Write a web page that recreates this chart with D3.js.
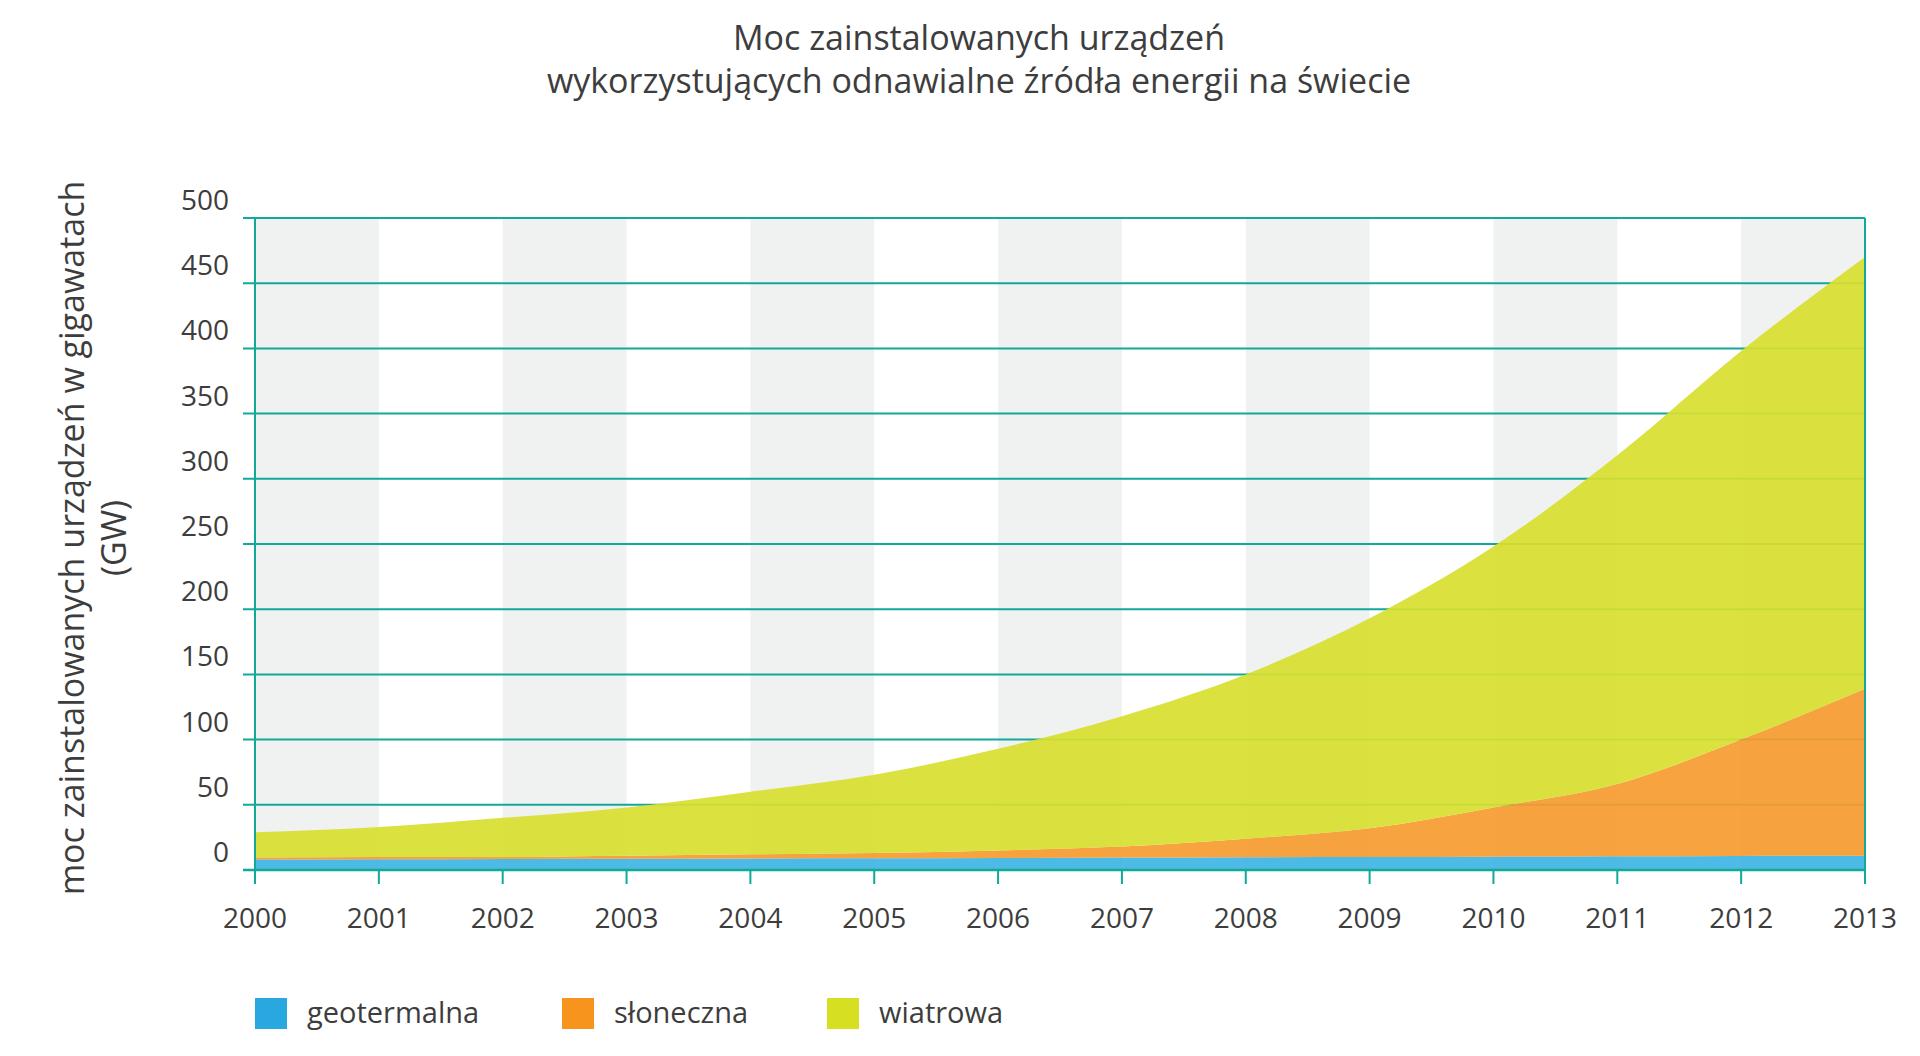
<!DOCTYPE html>
<html><head><meta charset="utf-8">
<script src="https://cdn.jsdelivr.net/npm/d3@7"></script>
<style>body{margin:0;background:#fff}text{font-family:"Open Sans",sans-serif;fill:#3d3d3d}</style>
</head><body><svg id="c" width="1920" height="1056"></svg>
<script>
const years=[2000,2001,2002,2003,2004,2005,2006,2007,2008,2009,2010,2011,2012,2013];
const geotermalna=[8,8.2,8.4,8.6,8.8,9,9.2,9.5,9.8,10,10.2,10.5,10.8,11];
const sloneczna=[1.5,1.8,1.6,2.4,3.2,4,5.8,8.5,14.2,22,37.8,55.5,89.2,128];
const wiatrowa=[19.5,23,30,37,48,60,78,100,126,161,200,252,298,331];
const yTicks=[0,50,100,150,200,250,300,350,400,450,500];
const seriesNames=["geotermalna","słoneczna","wiatrowa"];
const colors=["#3fb4e4","#f59b30","#d8e030"];
const legendColors=["#29a8e0","#f7941d","#d7df23"];

const svg=d3.select("#c");
const L=255,R=1865,T=218,B=870;
const x=d3.scaleLinear().domain([2000,2013]).range([L,R]);
const y=d3.scaleLinear().domain([0,500]).range([B,T]);
const teal="#12a89a";

for(let i=0;i<years.length-1;i+=2)
  svg.append("rect").attr("x",x(years[i])).attr("y",T).attr("width",x(years[i+1])-x(years[i])).attr("height",B-T).attr("fill","#f0f2f1");

svg.selectAll(".g").data(yTicks).join("line").attr("x1",L-12).attr("x2",R).attr("y1",d=>y(d)).attr("y2",d=>y(d)).attr("stroke",teal).attr("stroke-width",2);

const rows=years.map((yr,i)=>({year:yr,geotermalna:geotermalna[i],"słoneczna":sloneczna[i],wiatrowa:wiatrowa[i]}));
const stack=d3.stack().keys(seriesNames)(rows);
const area=d3.area().x(d=>x(d.data.year)).y0(d=>y(d[0])).y1(d=>y(d[1])).curve(d3.curveMonotoneX);
svg.selectAll(".a").data(stack).join("path").attr("d",area).attr("fill",(d,i)=>colors[i]).attr("fill-opacity",0.92);

svg.append("line").attr("x1",L).attr("x2",L).attr("y1",T).attr("y2",B+14).attr("stroke",teal).attr("stroke-width",2);
svg.append("line").attr("x1",R).attr("x2",R).attr("y1",T).attr("y2",B+14).attr("stroke",teal).attr("stroke-width",2);
svg.append("line").attr("x1",L-12).attr("x2",R).attr("y1",B).attr("y2",B).attr("stroke",teal).attr("stroke-width",2.5);
svg.selectAll(".xt").data(years).join("line").attr("x1",d=>x(d)).attr("x2",d=>x(d)).attr("y1",B).attr("y2",B+14).attr("stroke",teal).attr("stroke-width",2);

svg.selectAll(".yl").data(yTicks).join("text").attr("x",229).attr("y",d=>y(d)-8).attr("text-anchor","end").attr("font-size",28).text(d=>d);
svg.selectAll(".xl").data(years).join("text").attr("x",d=>x(d)).attr("y",928).attr("text-anchor","middle").attr("font-size",28).text(d=>d);

svg.append("text").attr("x",979).attr("y",50).attr("text-anchor","middle").attr("font-size",34).text("Moc zainstalowanych urządzeń");
svg.append("text").attr("x",979).attr("y",93).attr("text-anchor","middle").attr("font-size",34).text("wykorzystujących odnawialne źródła energii na świecie");

const ya=svg.append("text").attr("transform","translate(84,538) rotate(-90)").attr("text-anchor","middle").attr("font-size",34);
ya.append("tspan").attr("x",0).attr("dy",0).text("moc zainstalowanych urządzeń w gigawatach");
ya.append("tspan").attr("x",0).attr("dy",42).text("(GW)");

const lx=[255,562,827];
seriesNames.forEach((n,i)=>{
  svg.append("rect").attr("x",lx[i]).attr("y",998).attr("width",32).attr("height",31).attr("fill",legendColors[i]);
  svg.append("text").attr("x",lx[i]+52).attr("y",1023).attr("font-size",29).text(n);
});
</script></body></html>
